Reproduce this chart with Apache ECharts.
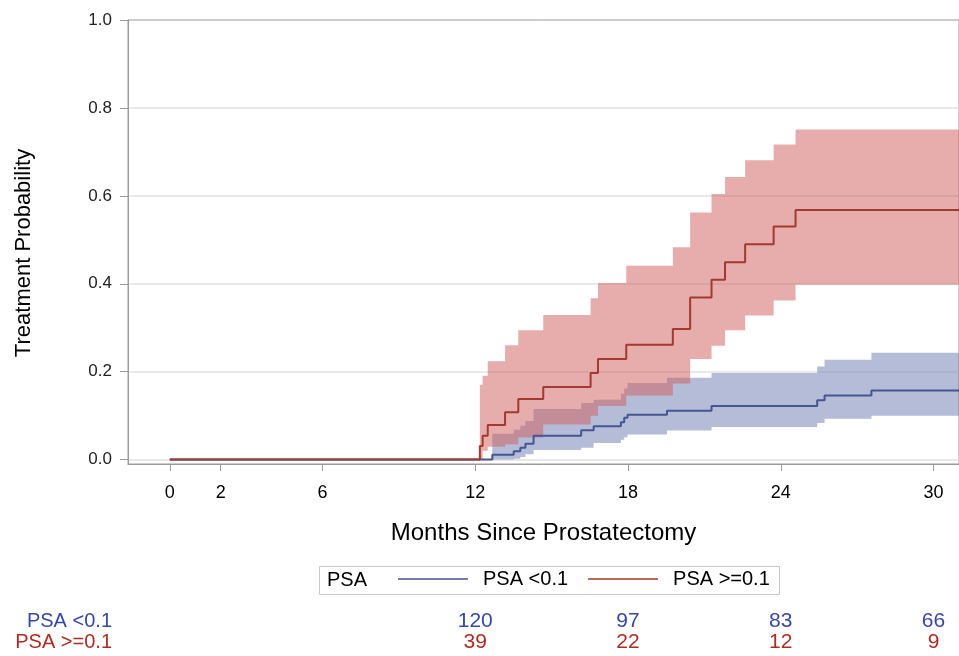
<!DOCTYPE html>
<html><head><meta charset="utf-8">
<script src="https://cdn.jsdelivr.net/npm/echarts@6/dist/echarts.min.js"></script>
<style>html,body{margin:0;padding:0;background:#fff}#c{width:959px;height:656px}</style>
</head><body><div id="c"></div>
<script>
const FONT = "'Liberation Sans',Arial,sans-serif";

// Axis ticks
const xTicks = [0, 2, 6, 12, 18, 24, 30];
const yTicks = [0, 0.2, 0.4, 0.6, 0.8, 1.0];
const gridValues = [0, 0.2, 0.4, 0.6, 0.8];
const groupNames = ['PSA <0.1', 'PSA >=0.1'];

// PSA <0.1 (blue) cumulative treatment probability with confidence band
const lowTime  = [0, 12.67, 13.51, 13.77, 13.97, 14.29, 16.16, 16.65, 17.72, 17.85, 17.98, 19.53, 21.28, 25.43, 25.72, 27.56, 31];
const lowEst   = [0, 0.011, 0.019, 0.027, 0.036, 0.054, 0.067, 0.076, 0.085, 0.095, 0.102, 0.111, 0.122, 0.135, 0.146, 0.157, 0.157];
const lowUpper = [0, 0.059, 0.068, 0.077, 0.088, 0.115, 0.129, 0.136, 0.150, 0.162, 0.174, 0.186, 0.197, 0.212, 0.227, 0.243, 0.243];
const lowLower = [0, 0, 0.002, 0.006, 0.012, 0.022, 0.027, 0.038, 0.045, 0.051, 0.057, 0.066, 0.074, 0.083, 0.093, 0.100, 0.100];

// PSA >=0.1 (red)
const highTime  = [0, 12.18, 12.29, 12.49, 13.17, 13.69, 14.67, 16.53, 16.82, 17.93, 19.76, 20.44, 21.28, 21.81, 22.60, 23.72, 24.58, 31];
const highEst   = [0, 0.031, 0.054, 0.079, 0.108, 0.138, 0.165, 0.197, 0.229, 0.261, 0.297, 0.369, 0.409, 0.449, 0.490, 0.530, 0.568, 0.568];
const highUpper = [0, 0.170, 0.191, 0.224, 0.260, 0.294, 0.329, 0.367, 0.402, 0.441, 0.483, 0.562, 0.604, 0.643, 0.681, 0.717, 0.751, 0.751];
const highLower = [0, 0, 0.020, 0.029, 0.035, 0.050, 0.080, 0.100, 0.122, 0.146, 0.173, 0.229, 0.259, 0.294, 0.328, 0.362, 0.398, 0.398];

// Number at risk
const atRiskMonths = [12, 18, 24, 30];
const atRiskLow  = [120, 97, 83, 66];
const atRiskHigh = [39, 22, 12, 9];

const BLUE = '#445694', RED = '#A23A2E';
const BLUE_FILL = 'rgba(111,126,179,0.52)', RED_FILL = 'rgba(208,91,91,0.5)';
const BLUE_TXT = '#3548A8', RED_TXT = '#AE2C24';

const zip = (t, v) => t.map((x, i) => [x, v[i]]);

function bandSeries(name, t, upper, lower, fill) {
  return {
    name, type: 'custom', silent: true, clip: true, z: 1,
    data: t.map((x, i) => [x, lower[i], upper[i]]),
    encode: { x: 0, y: [1, 2] },
    renderItem(params, api) {
      if (params.dataIndexInside !== 0) return null;
      const n = params.dataInsideLength;
      const up = [], lo = [];
      for (let i = 0; i < n; i++) {
        const x0 = api.value(0, i), l = api.value(1, i), u = api.value(2, i);
        const x1 = i < n - 1 ? api.value(0, i + 1) : x0;
        up.push(api.coord([x0, u]), api.coord([x1, u]));
        lo.push(api.coord([x0, l]), api.coord([x1, l]));
      }
      return { type: 'polygon', shape: { points: up.concat(lo.reverse()) }, style: { fill } };
    }
  };
}

function riskSeries(name, row, counts, color) {
  return { name, type: 'scatter', xAxisIndex: 1, yAxisIndex: 1, symbolSize: 0, silent: true,
    itemStyle: { opacity: 1 },
    data: atRiskMonths.map((m, i) => [m, row, counts[i]]),
    label: { show: true, position: 'inside', formatter: p => p.value[2], opacity: 1,
      fontFamily: FONT, fontSize: 21, color } };
}

const chart = echarts.init(document.getElementById('c'), null, { renderer: 'canvas' });
chart.setOption({
  animation: false,
  textStyle: { fontFamily: FONT },
  grid: [
    { left: 128, top: 20, width: 841, height: 444, show: true, borderColor: '#9a9a9a', borderWidth: 1 },
    { left: 128, top: 611, width: 841, height: 42 }
  ],
  xAxis: [
    { type: 'value', gridIndex: 0, min: -1.64, max: 31,
      name: 'Months Since Prostatectomy', nameLocation: 'middle', nameGap: 57,
      nameTextStyle: { fontFamily: FONT, fontSize: 24, color: '#000' },
      axisLine: { show: true, onZero: false, lineStyle: { color: '#9a9a9a' } },
      axisTick: { show: true, length: 7, lineStyle: { color: '#9a9a9a' }, customValues: xTicks },
      axisLabel: { fontFamily: FONT, fontSize: 18, color: '#000', margin: 20, customValues: xTicks },
      splitLine: { show: false } },
    { type: 'value', gridIndex: 1, min: -1.64, max: 31, show: false }
  ],
  yAxis: [
    { type: 'value', gridIndex: 0, min: -0.01, max: 1.0,
      name: 'Treatment Probability', nameLocation: 'middle', nameGap: 93,
      nameTextStyle: { fontFamily: FONT, fontSize: 22, color: '#000', padding: [0, 22, 0, 0] },
      axisLine: { show: true, onZero: false, lineStyle: { color: '#9a9a9a' } },
      axisTick: { show: true, length: 8, lineStyle: { color: '#9a9a9a' }, customValues: yTicks },
      axisLabel: { fontFamily: FONT, fontSize: 17, color: '#222', margin: 16, customValues: yTicks,
        formatter: v => v.toFixed(1) },
      splitLine: { show: false } },
    { type: 'category', gridIndex: 1, data: groupNames, inverse: true,
      axisLine: { show: false }, axisTick: { show: false }, splitLine: { show: false },
      axisLabel: { fontFamily: FONT, fontSize: 20, margin: 16, interval: 0,
        color: (v, i) => (i === 0 ? BLUE_TXT : RED_TXT) } }
  ],
  legend: {
    data: groupNames, left: 398, top: 569, padding: 0, icon: 'rect',
    itemWidth: 70, itemHeight: 1.6, itemGap: 20,
    textStyle: { fontFamily: FONT, fontSize: 20, color: '#000', padding: [0, 0, 0, 10] }
  },
  graphic: [
    { type: 'rect', shape: { x: 319.5, y: 566.5, width: 460, height: 28 },
      style: { fill: 'none', stroke: '#c8c8c8', lineWidth: 1 }, silent: true },
    { type: 'text', x: 327, y: 580, silent: true,
      style: { text: 'PSA', fontFamily: FONT, fontSize: 20, fill: '#000', verticalAlign: 'middle' } }
  ],
  series: [
    { name: 'gridlines', type: 'line', data: [], silent: true, z: 0,
      markLine: { silent: true, symbol: 'none', label: { show: false }, z: 0,
        lineStyle: { color: '#e2e2e2', type: 'solid', width: 1.5 },
        data: gridValues.map(v => ({ yAxis: v })) } },
    bandSeries('lowBand', lowTime, lowUpper, lowLower, BLUE_FILL),
    bandSeries('highBand', highTime, highUpper, highLower, RED_FILL),
    { name: groupNames[0], type: 'line', step: 'end', symbol: 'none', showSymbol: false, z: 3,
      lineStyle: { color: BLUE, width: 2 }, itemStyle: { color: BLUE }, data: zip(lowTime, lowEst) },
    { name: groupNames[1], type: 'line', step: 'end', symbol: 'none', showSymbol: false, z: 4,
      lineStyle: { color: RED, width: 2 }, itemStyle: { color: RED }, data: zip(highTime, highEst) },
    riskSeries('riskLow', 0, atRiskLow, BLUE_TXT),
    riskSeries('riskHigh', 1, atRiskHigh, RED_TXT)
  ]
});
</script></body></html>
